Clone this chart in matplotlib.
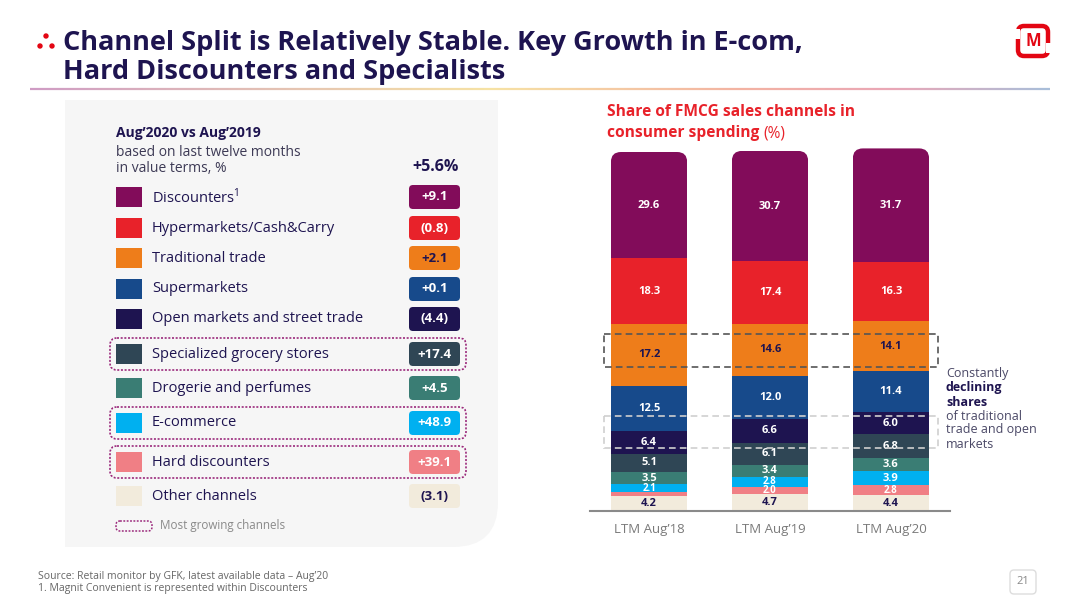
import numpy as np
import matplotlib
matplotlib.use('Agg')
import matplotlib.pyplot as plt
from matplotlib.patches import FancyBboxPatch, Circle, PathPatch
from matplotlib.path import Path
from matplotlib.collections import LineCollection
from matplotlib.colors import LinearSegmentedColormap

plt.rcParams['font.family'] = ['Open Sans', 'DejaVu Sans']

# ---------------- data ----------------
periods = ["LTM Aug’18", "LTM Aug’19", "LTM Aug’20"]
channels = ["Discounters$^{\\mathregular{1}}$", "Hypermarkets/Cash&Carry", "Traditional trade", "Supermarkets",
            "Open markets and street trade", "Specialized grocery stores", "Drogerie and perfumes",
            "E-commerce", "Hard discounters", "Other channels"]
growth = [9.1, -0.8, 2.1, 0.1, -4.4, 17.4, 4.5, 48.9, 39.1, -3.1]
most_growing = [False, False, False, False, False, True, False, True, True, False]
total_growth = 5.6

share_aug18 = [29.6, 18.3, 17.2, 12.5, 6.4, 5.1, 3.5, 2.1, 1.1, 4.2]
share_aug19 = [30.7, 17.4, 14.6, 12.0, 6.6, 6.1, 3.4, 2.8, 2.0, 4.7]
share_aug20 = [31.7, 16.3, 14.1, 11.4, 6.0, 6.8, 3.6, 3.9, 2.8, 4.4]
shares = [share_aug18, share_aug19, share_aug20]

colors = ['#820c5a', '#e8222a', '#ee7d1a', '#174a8b', '#1e1450',
          '#2f4655', '#3a7d74', '#00b0f0', '#f07f85', '#f2ebdc']
dark_text = ['Traditional trade', 'Other channels']

NAVY = '#1e1450'
RED = '#e30613'
W, H = 1080, 607

fig = plt.figure(figsize=(W / 100, H / 100), dpi=100)
fig.patch.set_facecolor('white')

# ---------------- bar chart ----------------
L, R, T, B = 590, 950, 152, 511
ax = fig.add_axes([L / W, (H - B) / H, (R - L) / W, (B - T) / H])
ax.set_zorder(1)
ax.patch.set_alpha(0)
xlim = (-0.488, 2.488)
ax.set_xlim(*xlim)
ax.set_ylim(0, 100)
bw = 0.63
px_per_x = (R - L) / (xlim[1] - xlim[0])
px_per_y = (B - T) / 100.0
asp = px_per_x / px_per_y
r = 10 / px_per_x

order = list(range(len(channels)))[::-1]  # bottom: Other ... top: Discounters
for i, vals in enumerate(shares):
    total = sum(vals)
    clip = FancyBboxPatch((i - bw / 2, -10), bw, total + 10,
                          boxstyle=f"round,pad=0,rounding_size={r}",
                          mutation_aspect=asp, transform=ax.transData)
    bottom = 0
    for k in order:
        v = vals[k]
        bars = ax.bar(i, v, bottom=bottom, width=bw, color=colors[k], linewidth=0)
        for p in bars:
            p.set_clip_path(clip)
            p.set_clip_box(None)
        if v >= 2:
            tc = NAVY if channels[k] in dark_text else 'white'
            ax.text(i, bottom + v / 2, f"{v:.1f}", ha='center', va='center',
                    fontsize=8 if v >= 3 else 7, fontweight='bold', color=tc, zorder=5)
        bottom += v

ax.axhline(0, color='#8a8a8a', lw=1.5, clip_on=False, zorder=6)
ax.set_xticks(range(len(periods)), periods)
ax.tick_params(axis='x', length=0, pad=9, labelsize=9.5, labelcolor='#7a7a7a')
ax.set_yticks([])
for s in ax.spines.values():
    s.set_visible(False)

# ---------------- overlay (pixel coordinates) ----------------
ov = fig.add_axes([0, 0, 1, 1])
ov.set_zorder(2)
ov.set_xlim(0, W)
ov.set_ylim(H, 0)
ov.axis('off')

# title bullets + title
for cx, cy in [(46, 36), (40, 46), (52, 46)]:
    ov.add_patch(Circle((cx, cy), 2.7, color=RED, lw=0))
title1 = ov.text(63, 43, "Channel Split is Relatively Stable. Key Growth in E-com,",
                 fontsize=17, fontweight='bold', color=NAVY, va='center')
title2 = ov.text(63, 72, "Hard Discounters and Specialists",
                 fontsize=17, fontweight='bold', color=NAVY, va='center')
fig.canvas.draw()
w1 = title1.get_window_extent().width
fs = 17 * (808 - 63) / w1
fs = min(fs, 19.5)
title1.set_fontsize(fs)
title2.set_fontsize(fs)

# gradient rule
cmap = LinearSegmentedColormap.from_list('g', [(0, '#cf9cc4'), (0.45, '#f6e2a4'),
                                              (0.7, '#f3b2a2'), (0.85, '#e9a6b6'),
                                              (1, '#a9bed9')])
xs = np.linspace(30, 1050, 300)
segs = [[(xs[j], 89), (xs[j + 1], 89)] for j in range(len(xs) - 1)]
ov.add_collection(LineCollection(segs, colors=cmap(np.linspace(0, 1, len(segs))), linewidths=1.6))

# logo
ov.add_patch(FancyBboxPatch((1018, 26), 30, 30, boxstyle="round,pad=0,rounding_size=6",
                            fc='none', ec=RED, lw=3.2))
ov.add_patch(FancyBboxPatch((1012, 29), 8, 10, boxstyle="square,pad=0", fc='white', ec='none'))
ov.add_patch(FancyBboxPatch((1046, 43), 8, 10, boxstyle="square,pad=0", fc='white', ec='none'))
ov.text(1033, 41.5, "M", fontsize=12, fontweight='bold', color=RED, ha='center', va='center')

# left panel background
x0, y0, x1, y1, rad = 65, 100, 498, 547, 45
verts = [(x0, y0), (x1, y0), (x1, y1 - rad), (x1, y1), (x1 - rad, y1), (x0, y1), (x0, y0)]
codes = [Path.MOVETO, Path.LINETO, Path.LINETO, Path.CURVE3, Path.CURVE3, Path.LINETO, Path.CLOSEPOLY]
ov.add_patch(PathPatch(Path(verts, codes), fc='#f6f6f6', ec='none'))

ov.text(116, 133, "Aug’2020 vs Aug’2019", fontsize=10, fontweight='bold', color=NAVY, va='center')
ov.text(116, 152, "based on last twelve months", fontsize=10, color='#3d3a55', va='center')
ov.text(116, 168, "in value terms, %", fontsize=10, color='#3d3a55', va='center')
ov.text(459, 167, f"+{total_growth:.1f}%", fontsize=11.5, fontweight='bold', color=NAVY,
        ha='right', va='center')

leg_y = [197, 228, 258, 289, 319, 354, 388, 423, 462, 496]
HL = '#9b2a7c'
for k, name in enumerate(channels):
    y = leg_y[k]
    ov.add_patch(FancyBboxPatch((116, y - 10), 26, 20, boxstyle="square,pad=0",
                                fc=colors[k], ec='none'))
    ov.text(152, y, name, fontsize=10.5, color=NAVY, va='center')
    ov.add_patch(FancyBboxPatch((409, y - 12), 51, 24, boxstyle="round,pad=0,rounding_size=4",
                                fc=colors[k], ec='none'))
    g = growth[k]
    gtxt = f"+{g:.1f}" if g >= 0 else f"({abs(g):.1f})"
    tc = NAVY if name in dark_text else 'white'
    ov.text(434.5, y, gtxt, fontsize=9.5, fontweight='bold', color=tc, ha='center', va='center')
    if most_growing[k]:
        ov.add_patch(FancyBboxPatch((110, y - 16), 356, 32, boxstyle="round,pad=0,rounding_size=7",
                                    fc='none', ec=HL, lw=1.2, ls=(0, (1.2, 1.0))))

ov.add_patch(FancyBboxPatch((116, 521), 36, 10, boxstyle="round,pad=0,rounding_size=4",
                            fc='none', ec=HL, lw=1.1, ls=(0, (1.2, 1.0))))
ov.text(160, 526, "Most growing channels", fontsize=8.4, color='#8a8a8a', va='center')

# chart title
ov.text(607, 112, "Share of FMCG sales channels in", fontsize=11.2, fontweight='bold',
        color='#e8222a', va='center')
t2 = ov.text(607, 133, "consumer spending", fontsize=11.2, fontweight='bold',
             color='#e8222a', va='center')
fig.canvas.draw()
ext = t2.get_window_extent()
ov.text(ext.x1 + 4, 133, "(%)", fontsize=11.2, color='#e8222a', va='center')

# dashed annotation boxes
ov.add_patch(FancyBboxPatch((604, 334), 334, 33, boxstyle="square,pad=0", fc='none',
                            ec='#555555', lw=1.2, ls=(0, (4, 2.5))))
ov.add_patch(FancyBboxPatch((604, 416), 334, 32, boxstyle="square,pad=0", fc='none',
                            ec='#cfcfcf', lw=1.2, ls=(0, (4, 2.5))))

ann = [("Constantly", False), ("declining", True), ("shares", True),
       ("of traditional", False), ("trade and open", False), ("markets", False)]
for j, (txt, bold) in enumerate(ann):
    ov.text(946, 374 + j * 14, txt, fontsize=9, fontweight='bold' if bold else 'normal',
            color=NAVY if bold else '#4a4866', va='center')

# footer
ov.text(38, 577, "Source: Retail monitor by GFK, latest available data – Aug’20",
        fontsize=7.5, color='#666666', va='center')
ov.text(38, 589, "1. Magnit Convenient is represented within Discounters",
        fontsize=7.5, color='#666666', va='center')
ov.add_patch(FancyBboxPatch((1010, 570), 26, 24, boxstyle="round,pad=0,rounding_size=4",
                            fc='white', ec='#dddddd', lw=1))
ov.text(1023, 582, "21", fontsize=8, color='#888888', ha='center', va='center')

fig.savefig('out.png', dpi=100)
